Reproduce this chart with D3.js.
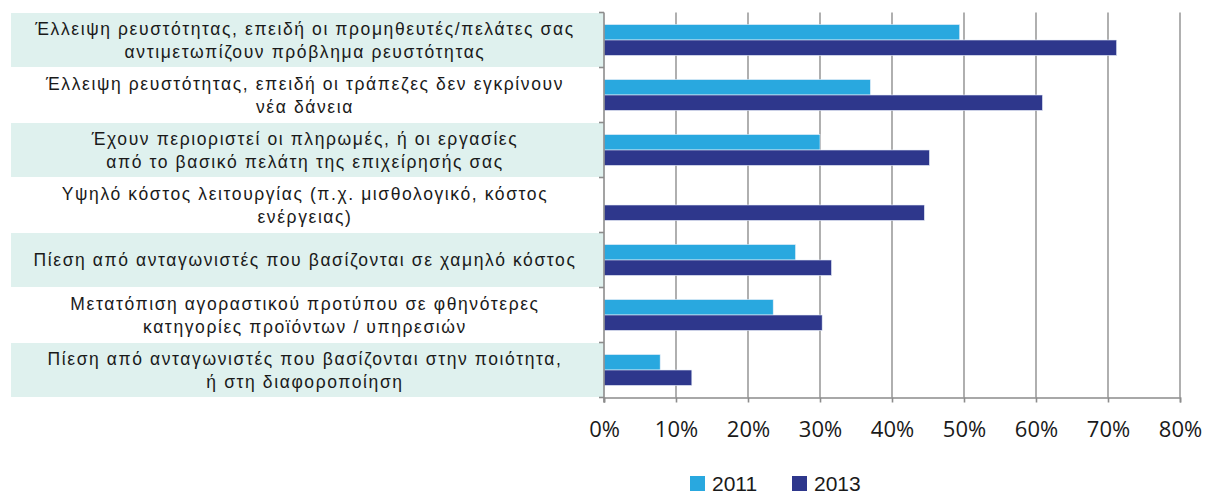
<!DOCTYPE html>
<html>
<head>
<meta charset="utf-8">
<script src="https://cdn.jsdelivr.net/npm/d3@7"></script>
<style>
  body { margin: 0; background: #fff; }
  svg { display: block; font-family: "Liberation Sans", "DejaVu Sans", sans-serif; }
</style>
</head>
<body>
<div id="chart"></div>
<script>
// category labels, already split in lines like the original
const categories = [
  ["Έλλειψη ρευστότητας, επειδή οι προμηθευτές/πελάτες σας", "αντιμετωπίζουν πρόβλημα ρευστότητας"],
  ["Έλλειψη ρευστότητας, επειδή οι τράπεζες δεν εγκρίνουν", "νέα δάνεια"],
  ["Έχουν περιοριστεί οι πληρωμές, ή οι εργασίες", "από το βασικό πελάτη της επιχείρησής σας"],
  ["Υψηλό κόστος λειτουργίας (π.χ. μισθολογικό, κόστος", "ενέργειας)"],
  ["Πίεση από ανταγωνιστές που βασίζονται σε χαμηλό κόστος"],
  ["Μετατόπιση αγοραστικού προτύπου σε φθηνότερες", "κατηγορίες προϊόντων / υπηρεσιών"],
  ["Πίεση από ανταγωνιστές που βασίζονται στην ποιότητα,", "ή στη διαφοροποίηση"]
];
const seriesNames = ["2011", "2013"];
const values2011 = [0.494, 0.370, 0.300, null, 0.266, 0.235, 0.078];
const values2013 = [0.712, 0.609, 0.452, 0.445, 0.316, 0.303, 0.122];
const ticks = [0, 0.1, 0.2, 0.3, 0.4, 0.5, 0.6, 0.7, 0.8];
const colors = { "2011": "#29a8df", "2013": "#2e378c" };

const width = 1208, height = 494;
const plotLeft = 604, plotRight = 1180, plotTop = 12.5, plotBottom = 397.5;

const svg = d3.select("#chart").append("svg")
  .attr("width", width)
  .attr("height", height);

const x = d3.scaleLinear().domain([0, 0.8]).range([plotLeft, plotRight]);
const idx = categories.map((d, i) => i);
const y0 = d3.scaleBand().domain(idx).range([plotTop, plotBottom]).padding(0);
const y1 = d3.scaleBand().domain(seriesNames).range([0, y0.bandwidth()]).paddingOuter(0.78).paddingInner(0);

// label boxes (alternating teal)
svg.append("g")
  .selectAll("rect")
  .data(idx.filter(i => i % 2 === 0))
  .join("rect")
  .attr("x", 11)
  .attr("y", i => y0(i) + 0.5)
  .attr("width", plotLeft - 11)
  .attr("height", y0.bandwidth() - 1)
  .attr("fill", "#dff1ee");

// gridlines
svg.append("g")
  .selectAll("line")
  .data(ticks.slice(1))
  .join("line")
  .attr("x1", d => x(d)).attr("x2", d => x(d))
  .attr("y1", plotTop).attr("y2", plotBottom)
  .attr("stroke", "#9c9c9c")
  .attr("stroke-width", 1.6);

// bars
const rows = idx.map(i => ({ i, vals: [values2011[i], values2013[i]] }));
const grp = svg.append("g")
  .selectAll("g")
  .data(rows)
  .join("g")
  .attr("transform", d => `translate(0,${y0(d.i)})`);

grp.selectAll("rect")
  .data(d => seriesNames.map((s, k) => ({ s, v: d.vals[k] })).filter(e => e.v != null))
  .join("rect")
  .attr("x", x(0))
  .attr("y", e => y1(e.s))
  .attr("width", e => x(e.v) - x(0))
  .attr("height", y1.bandwidth())
  .attr("fill", e => colors[e.s])
  .attr("stroke", "#e8eef8")
  .attr("stroke-width", 0.6);

// left axis
const yAxisG = svg.append("g");
yAxisG.append("line")
  .attr("x1", plotLeft).attr("x2", plotLeft)
  .attr("y1", plotTop).attr("y2", plotBottom + 5)
  .attr("stroke", "#8c8c8c").attr("stroke-width", 1.6);
yAxisG.selectAll("line.tk")
  .data(idx.concat([categories.length]))
  .join("line")
  .attr("class", "tk")
  .attr("x1", plotLeft - 5).attr("x2", plotLeft)
  .attr("y1", i => plotTop + i * y0.step()).attr("y2", i => plotTop + i * y0.step())
  .attr("stroke", "#8c8c8c").attr("stroke-width", 1.6);

// bottom axis
const xAxis = d3.axisBottom(x)
  .tickValues(ticks)
  .tickFormat(d3.format(".0%"))
  .tickSize(5)
  .tickPadding(19);
const xg = svg.append("g")
  .attr("transform", `translate(0,${plotBottom})`)
  .call(xAxis);
xg.select(".domain").attr("stroke", "#8c8c8c").attr("stroke-width", 1.6);
xg.selectAll(".tick line").attr("stroke", "#8c8c8c").attr("stroke-width", 1.6);
xg.selectAll(".tick text")
  .attr("fill", "#1a1a1a")
  .style("font-size", "22px")
  .style("font-family", "'Open Sans', sans-serif");

// category labels
const labels = svg.append("g")
  .selectAll("text")
  .data(idx)
  .join("text")
  .attr("x", 305)
  .attr("y", i => y0(i) + y0.bandwidth() / 2)
  .attr("text-anchor", "middle")
  .attr("fill", "#1a1a1a")
  .style("font-size", "17.5px")
  .style("letter-spacing", "1.6px");

labels.each(function (i) {
  const lines = categories[i];
  const lh = 23;
  const off = -(lines.length - 1) * lh / 2;
  d3.select(this).selectAll("tspan")
    .data(lines)
    .join("tspan")
    .attr("x", 305)
    .attr("dy", (d, k) => k === 0 ? off + 6 : lh)
    .text(d => d);
});

// legend
const legend = svg.append("g")
  .attr("transform", "translate(690,482)");
const li = legend.selectAll("g")
  .data(seriesNames)
  .join("g")
  .attr("transform", (d, k) => `translate(${k * 102},0)`);
li.append("rect")
  .attr("x", 0).attr("y", -6)
  .attr("width", 15).attr("height", 15)
  .attr("fill", d => colors[d]);
li.append("text")
  .attr("x", 22).attr("y", 9)
  .attr("fill", "#1a1a1a")
  .style("font-size", "21px")
  .style("font-family", "'Liberation Sans', sans-serif")
  .text(d => d);
</script>
</body>
</html>
